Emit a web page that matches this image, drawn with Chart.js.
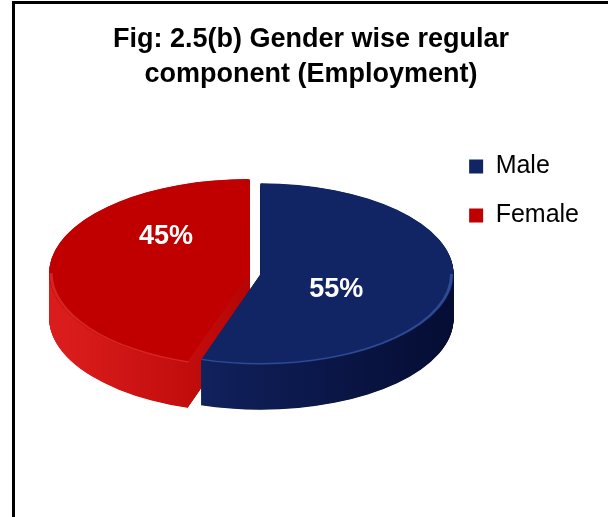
<!DOCTYPE html>
<html>
<head>
<meta charset="utf-8">
<script src="https://cdn.jsdelivr.net/npm/chart.js@4/dist/chart.umd.min.js"></script>
<style>
  html, body { margin: 0; padding: 0; background: #fff; }
  #wrap { width: 608px; height: 517px; position: relative; }
</style>
</head>
<body>
<div id="wrap"><canvas id="c" width="608" height="517"></canvas></div>
<script>
// Data
const categories = ['Male', 'Female'];
const shares = [55, 45];
const titleLines = ['Fig: 2.5(b) Gender wise regular', 'component (Employment)'];

// Styling
const FONT = "'Liberation Sans', Arial, Helvetica, sans-serif";
const topColors = ['#112463', '#C00000'];
const sideStops = [
  ['#1D3176', '#0E1D55', '#050D33'],
  ['#DA1C1C', '#B80606', '#8A0000']
];
const rimColors = ['rgba(70,105,190,0.55)', 'rgba(240,70,70,0.5)'];
const sliceOffsets = [0, 44];
const labelNudges = [[-10, 9], [2, -30]];
const TILT = 0.47;   // vertical squash of the disc
const DEPTH = 45;    // thickness of the disc, px
const TITLE_CENTER_X = 311;
const TITLE_BASELINES = [47, 82];

// White page, black frame on the left and top edges, and the two-line heading
const framePlugin = {
  id: 'frame',
  beforeDraw(chart) {
    const c = chart.ctx;
    c.save();
    c.fillStyle = '#fff';
    c.fillRect(0, 0, chart.width, chart.height);
    c.fillStyle = '#000';
    c.fillRect(12, 1, chart.width - 12, 3);
    c.fillRect(12, 1, 3, chart.height - 1);
    c.font = 'bold 27px ' + FONT;
    c.textAlign = 'center';
    c.textBaseline = 'alphabetic';
    titleLines.forEach((line, i) => c.fillText(line, TITLE_CENTER_X, TITLE_BASELINES[i]));
    c.restore();
  }
};

// Same geometry ArcElement uses for an exploded slice: shift by offset/4
// along the mid angle, radius grown by shift * (1 - sin(circumference)).
function sliceGeom(el) {
  const mid = (el.startAngle + el.endAngle) / 2;
  const shift = (el.options.offset || 0) / 4;
  const circ = el.endAngle - el.startAngle;
  const grow = shift * (1 - Math.sin(Math.min(Math.PI, circ)));
  return {
    x: el.x + Math.cos(mid) * shift,
    y: el.y + Math.sin(mid) * shift,
    r: el.outerRadius + grow,
    mid, shift
  };
}

function sectorPath(ctx, el, dy) {
  const g = sliceGeom(el);
  ctx.beginPath();
  ctx.moveTo(g.x, g.y + dy);
  ctx.arc(g.x, g.y + dy, g.r, el.startAngle, el.endAngle);
  ctx.closePath();
}

// Tilts the pie into an ellipse and extrudes its slices downward
const discPlugin = {
  id: 'disc',
  beforeDatasetsDraw(chart) {
    const ctx = chart.ctx;
    const arcs = chart.getDatasetMeta(0).data;
    const cy = arcs[0].y;
    ctx.save();
    ctx.translate(0, cy);
    ctx.scale(1, TILT);
    ctx.translate(0, -cy);
    const grads = arcs.map((el, i) => {
      const g = ctx.createLinearGradient(el.x - el.outerRadius, 0, el.x + el.outerRadius, 0);
      g.addColorStop(0, sideStops[i][0]);
      g.addColorStop(0.45, sideStops[i][1]);
      g.addColorStop(1, sideStops[i][2]);
      return g;
    });
    const depth = DEPTH / TILT;
    for (let d = depth; d > 0; d -= 1) {
      arcs.forEach((el, i) => {
        ctx.fillStyle = grads[i];
        sectorPath(ctx, el, d);
        ctx.fill();
      });
    }
  },
  afterDatasetsDraw(chart) {
    const ctx = chart.ctx;
    const arcs = chart.getDatasetMeta(0).data;
    const cy = arcs[0].y;
    // light rim along the front edge of each top face
    arcs.forEach((el, i) => {
      const a0 = Math.max(el.startAngle, 0);
      const a1 = Math.min(el.endAngle, Math.PI);
      if (a1 <= a0) return;
      const g = sliceGeom(el);
      ctx.beginPath();
      ctx.arc(g.x, g.y, g.r - 2, a0, a1);
      ctx.strokeStyle = rimColors[i];
      ctx.lineWidth = 3;
      ctx.stroke();
    });
    ctx.restore();

    // percentage labels on the top faces
    ctx.save();
    ctx.font = 'bold 27px ' + FONT;
    ctx.fillStyle = '#fff';
    ctx.textAlign = 'center';
    ctx.textBaseline = 'middle';
    arcs.forEach((el, i) => {
      const g = sliceGeom(el);
      const r = el.outerRadius * 0.45 + g.shift;
      const x = el.x + Math.cos(g.mid) * r + labelNudges[i][0];
      const y = cy + Math.sin(g.mid) * r * TILT + labelNudges[i][1];
      ctx.fillText(shares[i] + '%', x, y);
    });
    ctx.restore();
  }
};

new Chart(document.getElementById('c'), {
  type: 'pie',
  data: {
    labels: categories,
    datasets: [{
      data: shares,
      backgroundColor: topColors,
      borderWidth: 0,
      offset: sliceOffsets,
      radius: 193,
      clip: false
    }]
  },
  options: {
    responsive: false,
    animation: false,
    events: [],
    devicePixelRatio: 1,
    layout: { padding: { left: 76, right: 19, top: 130, bottom: 99 } },
    plugins: {
      title: { display: false },
      legend: {
        display: true,
        position: 'right',
        align: 'start',
        fullSize: false,
        labels: {
          color: '#000',
          font: { family: FONT, size: 25 },
          boxWidth: 14,
          boxHeight: 14,
          padding: 24
        }
      },
      tooltip: { enabled: false }
    }
  },
  plugins: [framePlugin, discPlugin]
});
</script>
</body>
</html>
